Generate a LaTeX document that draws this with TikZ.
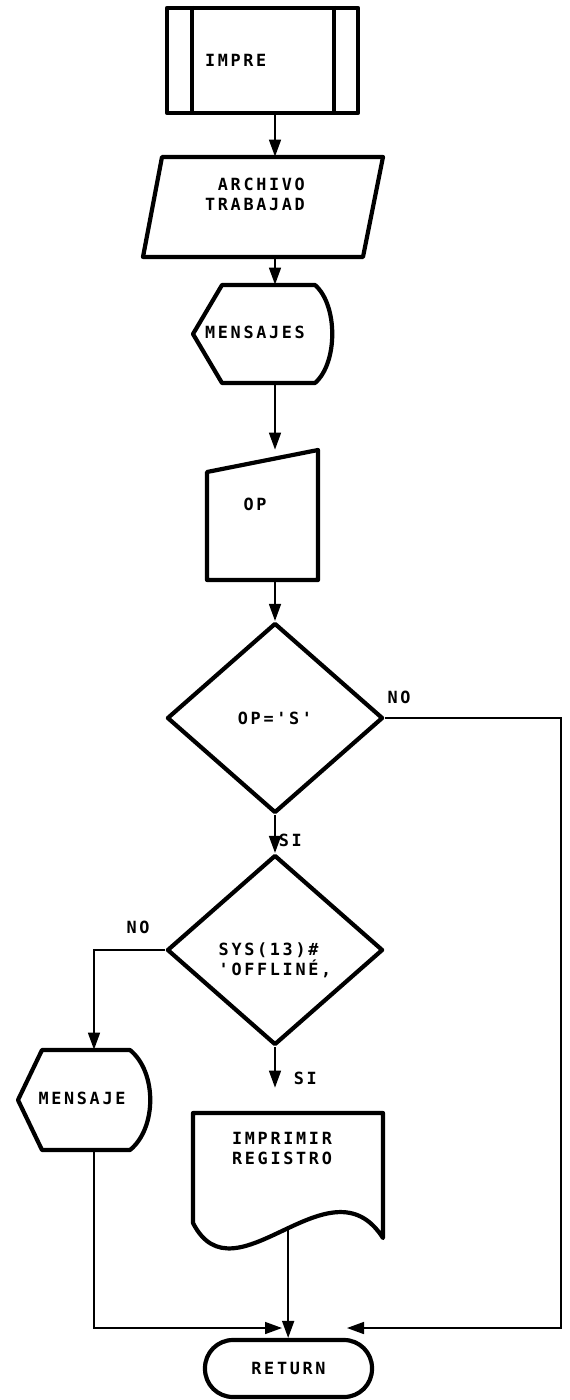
\documentclass[tikz,border=0pt]{standalone}
\usepackage{fontspec}
\usepackage{tikz}
\usetikzlibrary{positioning,arrows.meta,shapes.geometric,calc}
\newfontfamily\dotfont{DejaVu Sans Mono}[LetterSpace=16]
\newcommand{\dotsize}{\fontsize{8.4}{10}\selectfont}

\begin{document}
\begin{tikzpicture}[x=0.5pt,y=-0.5pt,
  txt/.style={font=\dotfont\bfseries\dotsize,inner sep=0pt},
  shp/.style={inner sep=0pt,draw=none},
  thickline/.style={line width=2.1pt,line join=round},
  decision/.style={diamond,draw,thickline,txt,align=left,
    minimum width=108pt,minimum height=95pt},
  arr/.style={-{Triangle[length=8.5pt,width=6pt]},line width=0.8pt}
]
\useasboundingbox (0,0) rectangle (569,1400);
\coordinate (spine) at (275,0);
\coordinate (lane) at (94,0);
\coordinate (rail) at (561,1328);
\coordinate (meet-r) at (347,1328);
\coordinate (meet-l) at (282,1328);

\node[rectangle,draw,thickline,txt,align=left,text width=57.5pt,inner xsep=19pt,
  minimum height=52.5pt] (impre) at (262.5,60.5) {IMPRE};
\draw[thickline] ($(impre.north west)+(27,0)$) -- ($(impre.south west)+(27,0)$);
\draw[thickline] ($(impre.north east)+(-26,0)$) -- ($(impre.south east)+(-26,0)$);

\node[shp,minimum width=120pt,minimum height=50pt] (archivo) at (263,207) {};
\draw[thickline] (162,157) -- (383,157) -- (363,257) -- (143,257) -- cycle;
\node[txt,align=right] (archivo-t) at (255,194) {ARCHIVO\\TRABAJAD};

\node[shp,minimum width=69.5pt,minimum height=49pt] (mensajes) at (262.5,334) {};
\draw[thickline] (222,285) -- (315,285) .. controls (338,305) and (338,363) .. (315,383)
  -- (222,383) -- (193,334) -- cycle;
\node[txt] (mensajes-t) at (255,332) {MENSAJES};

\node[shp,minimum width=55.5pt,minimum height=65pt] (op) at (262.5,515) {};
\draw[thickline] (207,472) -- (318,450) -- (318,580) -- (207,580) -- cycle;
\node[txt] (op-t) at (255,504) {OP};

\node[decision] (cond1) at (275,718) {OP='S'};
\node[decision] (cond2) at (275,950) {\strut\\SYS(13)\#\\'OFFLINÉ,};

\node[shp,minimum width=67pt,minimum height=50pt] (mensaje) at (85,1100) {};
\draw[thickline] (42,1050) -- (130,1050) .. controls (157,1072) and (157,1128) .. (130,1150)
  -- (42,1150) -- (18,1100) -- cycle;
\node[txt] (mensaje-t) at (82,1098) {MENSAJE};

\node[shp,minimum width=95pt,minimum height=68.5pt] (imprimir) at (288,1181.5) {};
\draw[thickline] (383,1238) -- (383,1113) -- (193,1113) -- (193,1223)
  .. controls (235,1305) and (330,1155) .. coordinate[pos=0.52] (docout) (383,1238) -- cycle;
\node[txt,align=center] (imprimir-t) at (282,1148) {IMPRIMIR\\REGISTRO};

\node[rectangle,draw,thickline,rounded corners=14pt,txt,minimum width=83.5pt,
  minimum height=28.5pt] (return) at (288.5,1368.5) {RETURN};

\draw[arr] (impre.south -| spine) -- (archivo.north -| spine);
\draw[arr] (archivo.south -| spine) -- (mensajes.north -| spine);
\draw[arr] (mensajes.south -| spine) -- (op.north -| spine);
\draw[arr] (op.south -| spine) -- (cond1.north);
\draw[arr] (cond1.south) -- node[txt,pos=0.66,right=1.5pt] (si1) {SI} (cond2.north);
\draw[arr] (cond1.east) -| (rail) -- (meet-r);
\node[txt,above right=7pt and 1pt of cond1.east] (no1) {NO};
\draw[arr] (cond2.west) -| (mensaje.north -| lane);
\node[txt,above left=8pt and 7.5pt of cond2.west] (no2) {NO};
\draw[arr,shorten >=12.5pt] (cond2.south) -- node[txt,pos=0.47,right=9pt] (si2) {SI}
  (imprimir.north -| spine);
\draw[arr] (mensaje.south -| lane) |- (meet-l);
\draw[arr] (docout) -- (docout |- return.north);
\end{tikzpicture}
\end{document}
